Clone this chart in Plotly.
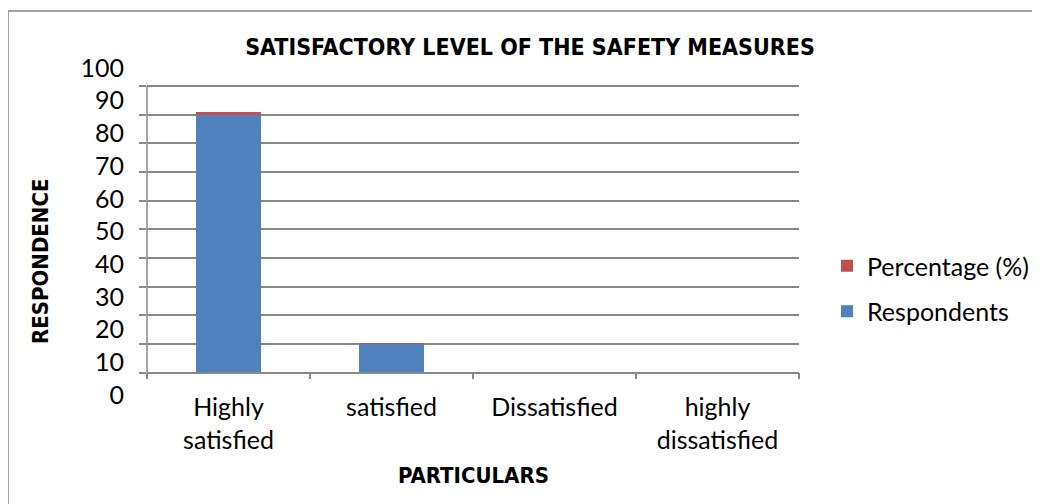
"""Satisfactory level of the safety measures: stacked bars, Office-style look."""

import plotly.graph_objects as go

CATEGORIAS = ["Highly<br>satisfied", "satisfied", "Dissatisfied", "highly<br>dissatisfied"]
RESPONDENTS = [90, 10, 0, 0]
PERCENTAGE = [0.9, 0.1, 0, 0]
TICKS_Y = list(range(0, 101, 10))

AZUL = "#4F81BD"
ROJO = "#C0504D"
GRIS = "#898989"
FUENTE = "Lato, Open Sans, sans-serif"
FUENTE_TITULO = "Liberation Sans Narrow, DejaVu Sans Condensed, sans-serif"

# la página HTML añade 8 px de margen: todas las posiciones en píxeles lo descuentan
OFF = 8
ALTO_PLOT = 340  # píxeles del área de trazado (y de 60 a 400 en la captura)

fig = go.Figure()
fig.add_trace(go.Bar(x=CATEGORIAS, y=RESPONDENTS, name="Respondents",
                     marker={"color": AZUL, "line": {"width": 0}},
                     legendgroup="r", legendrank=2))
fig.add_trace(go.Bar(x=CATEGORIAS, y=PERCENTAGE, name="Percentage (%)",
                     marker={"color": ROJO, "line": {"width": 0}},
                     legendgroup="p", legendrank=1))
# eje "fantasma" sólo para las etiquetas, que en el original no caen sobre la rejilla
fig.add_trace(go.Scatter(x=[CATEGORIAS[0]], y=[0], yaxis="y2", mode="markers",
                         marker={"opacity": 0}, showlegend=False, hoverinfo="skip"))

fig.update_layout(
    width=1040, height=504,
    barmode="stack", bargap=0.6,
    plot_bgcolor="white", paper_bgcolor="white",
    margin={"l": 147 - OFF, "r": 1040 - 799 + OFF, "t": 60 - OFF, "b": 504 - 400 + OFF},
    title={"text": "<b>SATISFACTORY LEVEL OF THE SAFETY MEASURES</b>",
           "x": (530 - OFF) / 1040, "xanchor": "center",
           "y": 1 - (47 - OFF) / 504, "yanchor": "middle", "yref": "container",
           "font": {"family": FUENTE_TITULO, "size": 23, "color": "black"}},
    xaxis={"type": "category", "anchor": "free", "position": (400 - 372.5) / ALTO_PLOT,
           "showline": True, "linecolor": GRIS, "linewidth": 1.5,
           "ticks": "outside", "tickson": "boundaries", "ticklen": 6, "tickcolor": GRIS,
           "tickwidth": 1.5, "showgrid": False, "ticklabelstandoff": 13,
           "tickfont": {"family": FUENTE, "size": 25, "color": "black"}},
    yaxis={"range": [(372.5 - 400) / 2.865, (372.5 - 60) / 2.865],
           "tickvals": TICKS_Y, "showticklabels": False,
           "showgrid": True, "gridcolor": GRIS, "gridwidth": 1.5, "zeroline": False,
           "ticks": "outside", "ticklen": 7, "tickcolor": GRIS, "tickwidth": 1.5,
           "showline": False},
    yaxis2={"overlaying": "y", "side": "left",
            "range": [(395 - 400) / 3.27, (395 - 60) / 3.27],
            "tickvals": TICKS_Y, "showgrid": False, "zeroline": False, "showline": False,
            "ticks": "", "ticklabelstandoff": 22,
            "tickfont": {"family": FUENTE, "size": 25, "color": "black"}},
    legend={"x": (841 - OFF - 14) / 1040, "xref": "container",
            "y": 1 - (243 - OFF) / 504, "yref": "container",
            "xanchor": "left", "yanchor": "top", "traceorder": "grouped",
            "tracegroupgap": 10, "itemwidth": 30,
            "font": {"family": FUENTE, "size": 25, "color": "black"}},
    showlegend=True,
)

# línea del eje vertical sólo entre 0 y 100, y el marco gris del documento
fig.add_shape(type="line", xref="paper", yref="y", x0=0, x1=0, y0=0, y1=100,
              line={"color": GRIS, "width": 1.5})
MARCO_X = (8 - 147) / 652
MARCO_Y = (400 - 11) / ALTO_PLOT
fig.add_shape(type="line", xref="paper", yref="paper", x0=MARCO_X, x1=MARCO_X,
              y0=MARCO_Y, y1=-0.5, line={"color": GRIS, "width": 1.5})
fig.add_shape(type="line", xref="paper", yref="paper", x0=MARCO_X, x1=1.6,
              y0=MARCO_Y, y1=MARCO_Y, line={"color": GRIS, "width": 1.5})

fig.add_annotation(text="<b>RESPONDENCE</b>", textangle=-90, showarrow=False,
                   xref="paper", yref="paper", xanchor="center", yanchor="middle",
                   x=(40 - 147) / 652, y=(400 - 262) / ALTO_PLOT,
                   font={"family": FUENTE_TITULO, "size": 22, "color": "black"})
fig.add_annotation(text="<b>PARTICULARS</b>", showarrow=False,
                   xref="paper", yref="paper", xanchor="center", yanchor="middle",
                   x=(473 - 147) / 652, y=(400 - 475) / ALTO_PLOT,
                   font={"family": FUENTE_TITULO, "size": 22, "color": "black"})

fig.write_html("out.html")
